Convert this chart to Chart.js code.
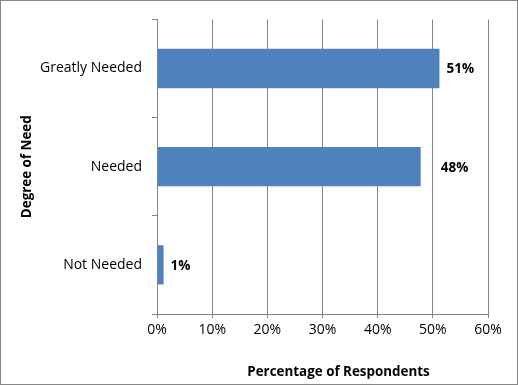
<!DOCTYPE html>
<html>
<head>
<meta charset="utf-8">
<script src="https://cdn.jsdelivr.net/npm/chart.js@4/dist/chart.umd.min.js"></script>
<style>
  html, body { margin: 0; padding: 0; background: #fff; }
  #wrap { position: relative; width: 518px; height: 385px; box-sizing: border-box; border: 1px solid #868686; }
  canvas { display: block; }
</style>
</head>
<body>
<div id="wrap"><canvas id="c" width="516" height="383"></canvas></div>
<script>
const categories = ["Greatly Needed", "Needed", "Not Needed"];
const values = [51.2, 47.8, 1.2];
const valueLabels = ["51%", "48%", "1%"];
const xTicks = [0, 10, 20, 30, 40, 50, 60];
const xTitle = "Percentage of Respondents";
const yTitle = "Degree of Need";

const FONT = "'Open Sans', sans-serif";
const labelOffsets = [7, 20, 7];

const valueLabelPlugin = {
  id: 'valueLabels',
  afterDatasetsDraw(chart) {
    const ctx = chart.ctx;
    const meta = chart.getDatasetMeta(0);
    ctx.save();
    ctx.font = "bold 13.5px " + FONT;
    ctx.fillStyle = "#000";
    ctx.textAlign = "left";
    ctx.textBaseline = "middle";
    meta.data.forEach((bar, i) => {
      ctx.fillText(valueLabels[i], bar.x + labelOffsets[i], bar.y + 1);
    });
    ctx.restore();
  }
};

const axisTitlePlugin = {
  id: 'axisTitles',
  afterDraw(chart) {
    const ctx = chart.ctx;
    const a = chart.chartArea;
    ctx.save();
    ctx.font = "bold 13.4px " + FONT;
    ctx.fillStyle = "#000";
    ctx.textAlign = "center";
    ctx.textBaseline = "middle";
    ctx.fillText(xTitle, (a.left + a.right) / 2 + 16, 371);
    ctx.translate(26, (a.top + a.bottom) / 2);
    ctx.rotate(-Math.PI / 2);
    ctx.fillText(yTitle, 0, 0);
    ctx.restore();
  }
};

new Chart(document.getElementById('c'), {
  type: 'bar',
  data: {
    labels: categories,
    datasets: [{
      data: values,
      backgroundColor: '#4f81bd',
      borderWidth: 0,
      barPercentage: 0.4,
      categoryPercentage: 1.0
    }]
  },
  options: {
    indexAxis: 'y',
    responsive: false,
    animation: false,
    layout: { padding: { left: 0, right: 29, top: 13, bottom: 0 } },
    plugins: { legend: { display: false }, tooltip: { enabled: false } },
    scales: {
      x: {
        min: 0, max: 60,
        afterBuildTicks(scale) { scale.ticks = xTicks.map(v => ({ value: v })); },
        afterFit(scale) { scale.height = 383 - 313; },
        ticks: {
          callback: v => v + '%',
          color: '#000',
          font: { family: FONT, size: 14 },
          padding: 4,
          maxRotation: 0
        },
        grid: { color: '#868686', lineWidth: 1, drawTicks: true, tickLength: 4 },
        border: { display: true, color: '#868686', width: 1 }
      },
      y: {
        afterFit(scale) { scale.width = 156; },
        ticks: {
          color: '#000',
          font: { family: FONT, size: 14 },
          padding: 10
        },
        grid: { offset: true, drawOnChartArea: false, drawTicks: true, tickLength: 5, color: '#868686' },
        border: { display: true, color: '#868686', width: 1 }
      }
    }
  },
  plugins: [valueLabelPlugin, axisTitlePlugin]
});
</script>
</body>
</html>
